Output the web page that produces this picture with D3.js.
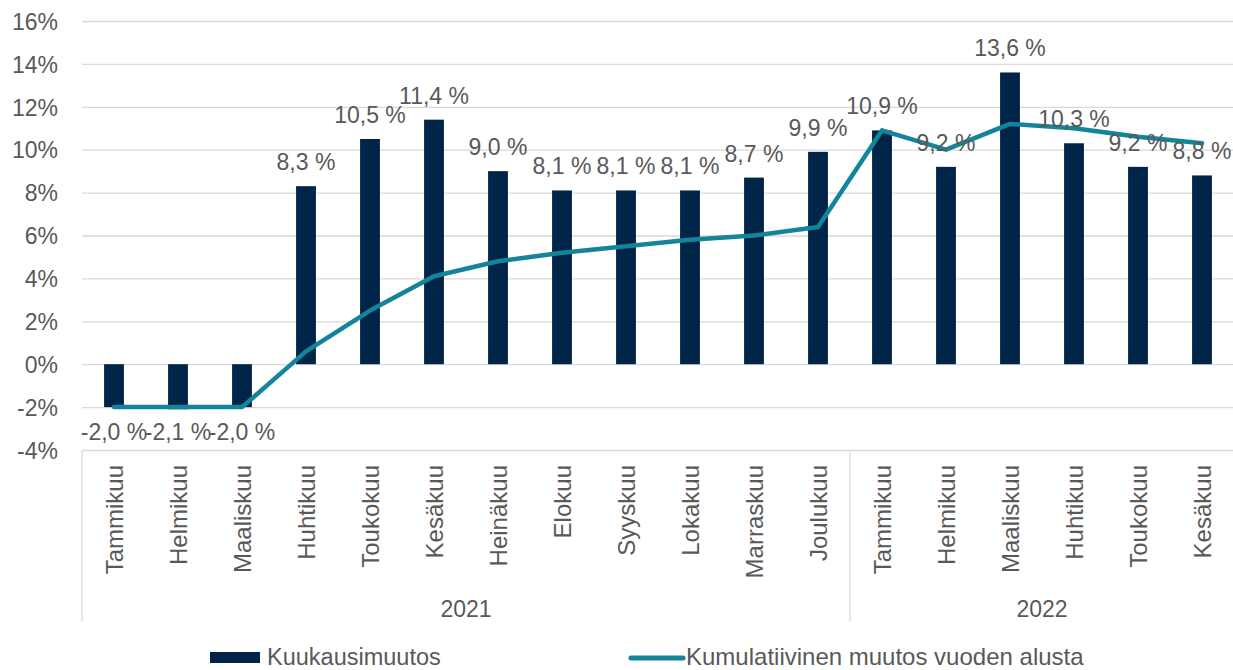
<!DOCTYPE html>
<html>
<head>
<meta charset="utf-8">
<script src="https://cdnjs.cloudflare.com/ajax/libs/d3/7.8.5/d3.min.js"></script>
<style>
  body { margin: 0; background: #fff; }
  text { font-family: "Liberation Sans", Arial, sans-serif; fill: #595959; }
</style>
</head>
<body>
<svg id="kaavio" width="1233" height="670"></svg>
<script>
// ---------------- data ----------------
var kuukaudet = ["Tammikuu","Helmikuu","Maaliskuu","Huhtikuu","Toukokuu","Kesäkuu","Heinäkuu","Elokuu","Syyskuu","Lokakuu","Marraskuu","Joulukuu",
                 "Tammikuu","Helmikuu","Maaliskuu","Huhtikuu","Toukokuu","Kesäkuu"];
var vuodet = [{nimi:"2021", alku:0, loppu:12}, {nimi:"2022", alku:12, loppu:18}];
var kuukausimuutos = [-2.0,-2.1,-2.0,8.3,10.5,11.4,9.0,8.1,8.1,8.1,8.7,9.9,10.9,9.2,13.6,10.3,9.2,8.8];
var kumulatiivinen = [-2.0,-2.0,-2.0,0.6,2.5,4.1,4.8,5.2,5.5,5.8,6.0,6.4,10.9,10.0,11.2,11.0,10.6,10.3];
var yTicks = [-4,-2,0,2,4,6,8,10,12,14,16];
var sarjat = ["Kuukausimuutos","Kumulatiivinen muutos vuoden alusta"];

var tummaSininen = "#002548";
var turkoosi = "#13849a";
var harmaa = "#d9d9d9";

var svg = d3.select("#kaavio");
var vasen = 82, oikea = 1234;

var x = d3.scaleBand().domain(d3.range(kuukaudet.length)).range([vasen, oikea]).paddingInner(0.69).paddingOuter(0.345);
var y = d3.scaleLinear().domain([-4,16]).range([450,21]);

// ---------------- gridlines + y labels ----------------
var yAkseli = d3.axisLeft(y).tickValues(yTicks).tickSize(-(oikea-vasen)).tickFormat(function(d){ return d + "%"; });
var g = svg.append("g").attr("transform","translate(" + vasen + ",0)").call(yAkseli);
g.select(".domain").remove();
g.selectAll(".tick line").attr("stroke", harmaa).attr("stroke-width", 1.3);
g.selectAll(".tick text").attr("x", -24).attr("dy","0.36em")
  .style("font-size","23px").attr("fill","#595959");

// ---------------- category axis box ----------------
var rajat = [0,12,18];
rajat.forEach(function(i){
    var xx = vasen + i*x.step();
    svg.append("line").attr("x1",xx).attr("x2",xx).attr("y1",y(-4)).attr("y2",622)
       .attr("stroke",harmaa).attr("stroke-width",1.3);
});

svg.append("g").selectAll("text").data(kuukaudet).enter().append("text")
  .attr("transform", function(d,i){ return "translate(" + (x(i)+x.bandwidth()/2) + ",465) rotate(-90)"; })
  .attr("text-anchor","end").attr("dy","0.36em")
  .style("font-size","24px")
  .text(function(d){ return d; });

svg.append("g").selectAll("text").data(vuodet).enter().append("text")
  .attr("x", function(d){ return vasen + (d.alku + d.loppu)/2*x.step(); })
  .attr("y", 617).attr("text-anchor","middle").style("font-size","23px")
  .text(function(d){ return d.nimi; });

// ---------------- bars ----------------
svg.append("g").selectAll("rect").data(kuukausimuutos).enter().append("rect")
  .attr("x", function(d,i){ return x(i); })
  .attr("width", x.bandwidth())
  .attr("y", function(d){ return y(Math.max(0,d)); })
  .attr("height", function(d){ return Math.abs(y(d)-y(0)); })
  .attr("fill", tummaSininen);

// ---------------- line ----------------
var viiva = d3.line().x(function(d,i){ return x(i)+x.bandwidth()/2; }).y(function(d){ return y(d); });
svg.append("path").datum(kumulatiivinen).attr("d", viiva)
  .attr("fill","none").attr("stroke",turkoosi).attr("stroke-width",4.5)
  .attr("stroke-linejoin","round").attr("stroke-linecap","round");

// ---------------- data labels ----------------
svg.append("g").selectAll("text").data(kuukausimuutos).enter().append("text")
  .attr("x", function(d,i){ return x(i)+x.bandwidth()/2; })
  .attr("y", function(d){ return d >= 0 ? y(d)-16 : y(-2)+33; })
  .attr("text-anchor","middle").style("font-size","23px")
  .text(function(d){ return d.toFixed(1).replace(".",",") + " %"; });

// ---------------- legend ----------------
var leg = svg.append("g");
leg.append("rect").attr("x",210).attr("y",652).attr("width",50).attr("height",11).attr("fill",tummaSininen);
leg.append("text").attr("x",267).attr("y",665).style("font-size","23.5px").text(sarjat[0]);
leg.append("line").attr("x1",631).attr("x2",683).attr("y1",658).attr("y2",658)
   .attr("stroke",turkoosi).attr("stroke-width",5).attr("stroke-linecap","round");
leg.append("text").attr("x",686).attr("y",665).style("font-size","24px").text(sarjat[1]);
</script>
</body>
</html>
